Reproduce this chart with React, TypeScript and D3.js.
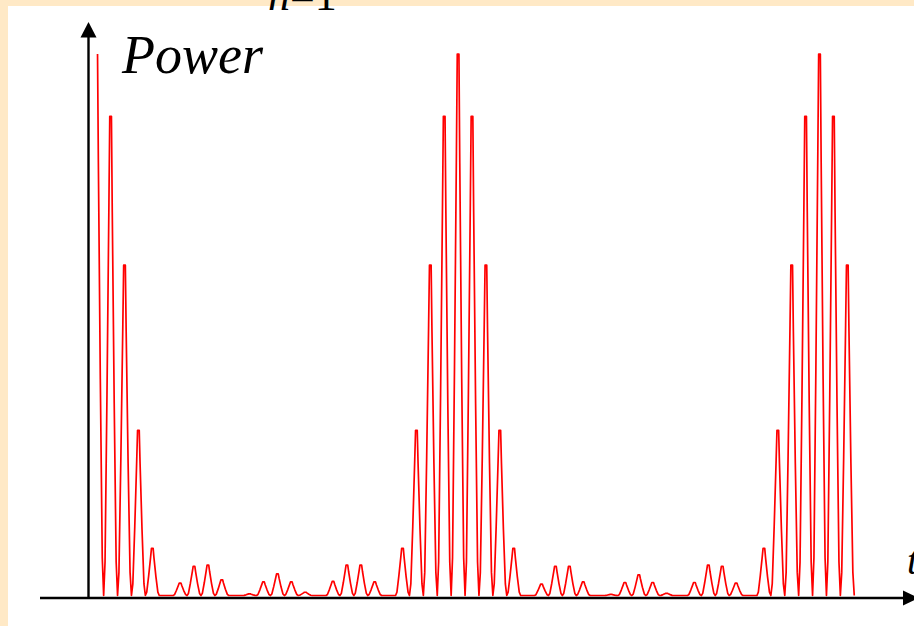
import React, { useEffect, useRef } from 'react';
import * as d3 from 'd3';

// peak power of every interference fringe, one fringe per time step (arb. units)
const fringePeaks = [
  // first pulse, starts at its maximum (t = 0..4)
  100, 88.5, 61, 30.5, 8.7,
  // weak side lobes (t = 5..21)
  0, 2.3, 5.4, 5.6, 2.9, 0, 0.3, 2.5, 4, 2.5, 0.6, 0, 2.6, 5.6, 5.6, 2.5, 0,
  // second pulse (t = 22..30)
  8.7, 30.5, 61, 88.5, 100, 88.5, 61, 30.5, 8.7,
  // weak side lobes (t = 31..47)
  0, 2.1, 5.4, 5.4, 2.5, 0, 0.2, 2.4, 3.8, 2.4, 0.4, 0, 2.4, 5.6, 5.4, 2.3, 0,
  // third pulse, cut after t = 54
  8.7, 30.5, 61, 88.5, 100, 88.5, 61,
];

// shape of one fringe as it is drawn: [offset in fringe periods, fraction of its peak]
const fringeShape = [
  [-0.5, 0], [-0.4, 0.07], [-0.26, 0.42], [-0.12, 0.82], [-0.06, 1],
  [0.06, 1], [0.12, 0.8], [0.26, 0.4], [0.4, 0.07], [0.5, 0],
];

const yLabel = 'Power';
const xLabel = 't';

export default function App() {
  const ref = useRef<SVGSVGElement>(null);

  useEffect(() => {
    const svg = d3.select(ref.current);
    svg.selectAll('*').remove();

    const width = 914,
      height = 626;

    const x = d3.scaleLinear().domain([0, fringePeaks.length - 1]).range([96.7, 847.3]);
    const y = d3.scaleLinear().domain([0, 100]).range([595.5, 54]);

    // frame
    svg.append('rect').attr('width', width).attr('height', height).attr('fill', '#FFE9C6');
    svg
      .append('rect')
      .attr('x', 8)
      .attr('y', 6)
      .attr('width', width - 8)
      .attr('height', height - 6)
      .attr('fill', '#fff');

    // summation limit, cut off at the top as in the slide
    const lim = svg
      .append('text')
      .attr('x', 268)
      .attr('y', 10)
      .attr('font-family', '"Liberation Serif", "Times New Roman", serif')
      .attr('font-size', 44)
      .attr('fill', '#000');
    lim.append('tspan').attr('font-style', 'italic').text('n');
    lim.append('tspan').text('=1');

    // the signal
    const pts: [number, number][] = [];
    fringePeaks.forEach((p, k) => {
      fringeShape.forEach(([dt, f]) => {
        const t = k + dt;
        if (t >= 0) pts.push([t, p * f]);
      });
    });

    const line = d3
      .line<[number, number]>()
      .x(d => x(d[0]))
      .y(d => y(d[1]));

    svg
      .append('path')
      .datum(pts)
      .attr('d', line)
      .attr('fill', 'none')
      .attr('stroke', '#ff0000')
      .attr('stroke-width', 1.7)
      .attr('stroke-linejoin', 'round');

    // axes with arrow heads
    svg
      .append('line')
      .attr('x1', 88.5)
      .attr('x2', 88.5)
      .attr('y1', 599)
      .attr('y2', 34)
      .attr('stroke', '#000')
      .attr('stroke-width', 2.4);
    svg.append('path').attr('d', 'M80.5,37.5L88.5,22L96.5,37.5Z').attr('fill', '#000');

    svg
      .append('line')
      .attr('x1', 40)
      .attr('x2', 905)
      .attr('y1', 598)
      .attr('y2', 598)
      .attr('stroke', '#000')
      .attr('stroke-width', 2.4);
    svg.append('path').attr('d', 'M903,590.5L919,598L903,605.5Z').attr('fill', '#000');

    svg
      .append('text')
      .attr('x', 122)
      .attr('y', 73)
      .attr('font-family', '"Liberation Serif", "Times New Roman", serif')
      .attr('font-style', 'italic')
      .attr('font-size', 54)
      .attr('fill', '#000')
      .text(yLabel);

    svg
      .append('text')
      .attr('x', 907)
      .attr('y', 574)
      .attr('font-family', '"Liberation Serif", "Times New Roman", serif')
      .attr('font-style', 'italic')
      .attr('font-size', 40)
      .attr('fill', '#000')
      .text(xLabel);
  }, []);

  return (
    <svg
      ref={ref}
      width="914"
      height="626"
      viewBox="0 0 914 626"
      style={{ position: 'fixed', left: 0, top: 0 }}
    />
  );
}
